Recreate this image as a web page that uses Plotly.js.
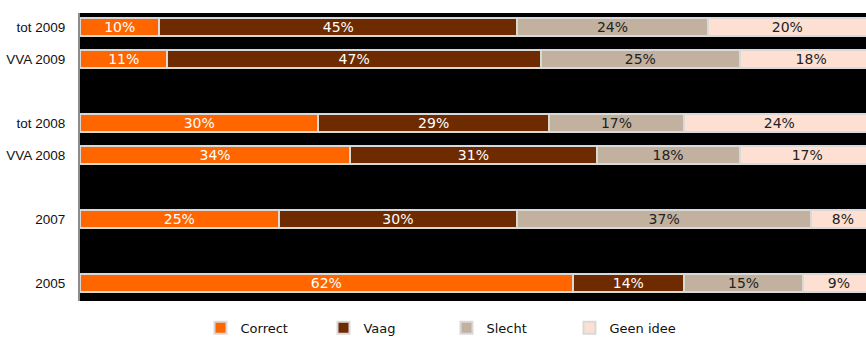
<!DOCTYPE html>
<html>
<head>
<meta charset="utf-8">
<script src="https://cdn.plot.ly/plotly-3.0.1.min.js"></script>
<style>html,body{margin:0;padding:0;background:#fff;}#chart{width:866px;height:338px;}</style>
</head>
<body>
<div id="chart"></div>
<script>
// Categories (top to bottom); blank entries are the empty gaps between groups
const categories = ['tot 2009', 'VVA 2009', ' ', 'tot 2008', 'VVA 2008', '  ', '2007', '   ', '2005'];
const seriesNames = ['Correct', 'Vaag', 'Slecht', 'Geen idee'];
const correct  = [10, 11, null, 30, 34, null, 25, null, 62];
const vaag     = [45, 47, null, 29, 31, null, 30, null, 14];
const slecht   = [24, 25, null, 17, 18, null, 37, null, 15];
const geenIdee = [20, 18, null, 24, 17, null, 8, null, 9];

const values = [correct, vaag, slecht, geenIdee];
const colors = ['#FF6600', '#6E2B00', '#C3B19F', '#FDE0D1'];
const textColors = ['#ffffff', '#ffffff', '#222222', '#222222'];

const traces = seriesNames.map((name, i) => ({
  type: 'bar',
  orientation: 'h',
  name: name,
  y: categories,
  x: values[i],
  marker: {color: colors[i], line: {color: '#D9D9D9', width: 2}},
  text: values[i].map(v => v == null ? '' : v + '%'),
  textposition: 'inside',
  insidetextanchor: 'middle',
  textangle: 0,
  constraintext: 'none',
  textfont: {family: 'DejaVu Sans', size: 14, color: textColors[i]},
  hoverinfo: 'none'
}));

const layout = {
  width: 866,
  height: 338,
  barmode: 'stack',
  bargap: 0.42,
  paper_bgcolor: '#ffffff',
  plot_bgcolor: '#000000',
  margin: {l: 80, r: 0, t: 13, b: 37},
  xaxis: {
    range: [0, 98.9],
    showticklabels: false,
    showgrid: false,
    zeroline: false,
    showline: false,
    ticks: ''
  },
  yaxis: {
    type: 'category',
    categoryorder: 'array',
    categoryarray: categories,
    range: [8.56, -0.44],
    showgrid: false,
    zeroline: false,
    showline: true,
    linecolor: '#8c8c8c',
    linewidth: 2,
    ticks: '',
    ticklabelstandoff: 10,
    tickfont: {family: 'Liberation Sans', size: 13.5, color: '#111111'}
  },
  showlegend: true,
  legend: {
    orientation: 'h',
    xref: 'container',
    yref: 'container',
    x: 0.2315,
    xanchor: 'left',
    y: 0.03,
    yanchor: 'middle',
    entrywidth: 78,
    entrywidthmode: 'pixels',
    itemwidth: 30,
    traceorder: 'normal',
    font: {family: 'DejaVu Sans', size: 13, color: '#111111'}
  }
};

Plotly.newPlot('chart', traces, layout, {staticPlot: true, displayModeBar: false});
</script>
</body>
</html>
